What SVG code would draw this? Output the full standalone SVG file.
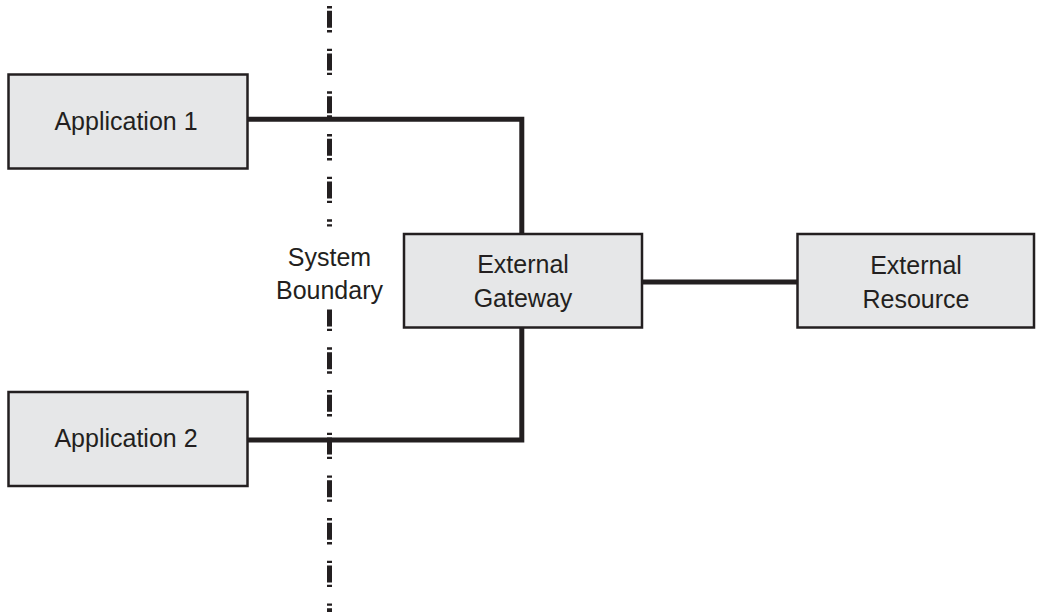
<svg xmlns="http://www.w3.org/2000/svg" width="1037" height="612" viewBox="0 0 1037 612">
<style>
.box{fill:#e6e7e8;stroke:#231f20;stroke-width:2.5}
.lbl{font-family:"Liberation Sans",Arial,sans-serif;font-size:25px;fill:#231f20;text-anchor:middle}
.conn{fill:none;stroke:#231f20;stroke-width:5;stroke-linejoin:miter;stroke-linecap:butt}
.bnd{fill:none;stroke:#231f20;stroke-width:5;stroke-dasharray:2.4 2.4 17 2.2 2.4 16.27}
</style>
<rect width="1037" height="612" fill="#ffffff"/>
<g id="boundary">
<line class="bnd" x1="329.5" y1="6" x2="329.5" y2="226.5"/>
<line class="bnd" x1="329.5" y1="309.5" x2="329.5" y2="612" stroke-dashoffset="4.8"/>
<text class="lbl" x="329.5" y="265.5">System</text>
<text class="lbl" x="329.5" y="298.5">Boundary</text>
</g>
<g id="connectors">
<polyline class="conn" points="247.5,119.3 521.8,119.3 521.8,234"/>
<polyline class="conn" points="247.5,440 521.8,440 521.8,327.5"/>
<line class="conn" x1="642" y1="282" x2="797.5" y2="282"/>
</g>
<g id="app1">
<rect class="box" x="8.5" y="74.5" width="239" height="94"/>
<text class="lbl" x="126" y="129.5">Application 1</text>
</g>
<g id="app2">
<rect class="box" x="8.5" y="392" width="239" height="94"/>
<text class="lbl" x="126" y="447">Application 2</text>
</g>
<g id="gateway">
<rect class="box" x="404" y="234" width="238" height="93.5"/>
<text class="lbl" x="523" y="273">External</text>
<text class="lbl" x="523" y="307">Gateway</text>
</g>
<g id="resource">
<rect class="box" x="797.5" y="234" width="236.5" height="93.5"/>
<text class="lbl" x="916" y="274">External</text>
<text class="lbl" x="916" y="308">Resource</text>
</g>
</svg>
